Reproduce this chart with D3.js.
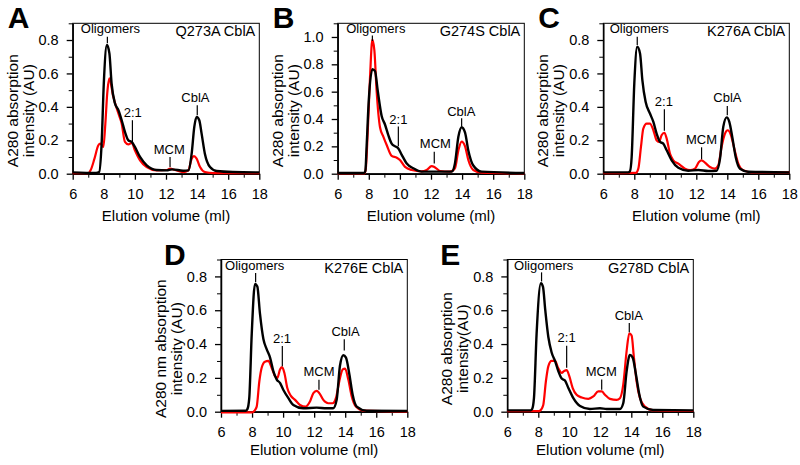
<!DOCTYPE html>
<html>
<head>
<meta charset="utf-8">
<script src="https://cdn.jsdelivr.net/npm/d3@7"></script>
<style>
	body { margin: 0; background: #fff; }
	svg { display: block; font-family: "Liberation Sans", Arial, sans-serif; }
</style>
</head>
<body>
<svg id="chart" width="800" height="465"></svg>
<script>
// ---- data ----
const xTicks = [6, 8, 10, 12, 14, 16, 18];
const xMinor = [7, 9, 11, 13, 15, 17];
const panelLetters = ["A", "B", "C", "D", "E"];
const panelTitles = ["Q273A CblA", "G274S CblA", "K276A CblA", "K276E CblA", "G278D CblA"];
const yLabels = [
	["A280 absorption", "intensity (AU)"],
	["A280 absorption", "intensity (AU)"],
	["A280 absorption", "intensity (AU)"],
	["A280 nm absorption", "intensity (AU)"],
	["A280 absorption", "intensity(AU)"],
];
const yMax = [0.9, 1.1, 0.9, 0.9, 0.9];
const xLabel = "Elution volume (ml)";

// [elution volume (ml), A280 (AU)]
const blackA = [[6,0.008],[7.5,0.005],[7.7,0.01],[7.86,0.18],[8.0,0.54],[8.2,0.77],[8.36,0.72],[8.5,0.54],[8.72,0.42],[8.94,0.38],[9.15,0.32],[9.36,0.25],[9.58,0.2],[9.8,0.19],[10.0,0.16],[10.33,0.1],[10.76,0.05],[11.4,0.022],[12.04,0.02],[12.4,0.026],[13.1,0.018],[13.44,0.02],[13.65,0.12],[13.82,0.28],[13.97,0.34],[14.14,0.32],[14.29,0.24],[14.5,0.12],[14.83,0.04],[15.26,0.016],[16.3,0.01],[18,0.008]];
const redA = [[6,0.003],[7.0,0.003],[7.15,0.02],[7.4,0.09],[7.65,0.17],[7.78,0.18],[7.97,0.16],[8.1,0.3],[8.22,0.48],[8.36,0.57],[8.61,0.46],[8.94,0.36],[9.15,0.3],[9.36,0.19],[9.58,0.175],[9.8,0.185],[10.0,0.14],[10.33,0.08],[10.76,0.04],[11.4,0.02],[12.04,0.022],[12.26,0.03],[12.58,0.022],[13.1,0.01],[13.44,0.02],[13.65,0.09],[13.8,0.105],[13.97,0.09],[14.19,0.04],[14.5,0.01],[15.04,0.004],[18,0.003]];
const blackB = [[6,0.005],[7.7,0.005],[7.78,0.02],[7.86,0.2],[8.0,0.54],[8.23,0.765],[8.4,0.75],[8.57,0.61],[8.83,0.42],[9.04,0.36],[9.26,0.28],[9.47,0.22],[9.69,0.2],[9.9,0.185],[10.11,0.14],[10.44,0.075],[10.86,0.04],[11.4,0.015],[12.47,0.015],[13.33,0.015],[13.54,0.075],[13.76,0.27],[13.97,0.34],[14.19,0.3],[14.4,0.17],[14.72,0.06],[15.26,0.015],[18,0.005]];
const redB = [[6,0.003],[7.72,0.003],[7.8,0.03],[7.93,0.3],[8.08,0.71],[8.23,0.98],[8.36,0.9],[8.5,0.61],[8.72,0.34],[8.94,0.27],[9.15,0.21],[9.47,0.13],[9.8,0.117],[10.0,0.1],[10.33,0.05],[10.76,0.027],[11.4,0.017],[11.72,0.027],[12.04,0.056],[12.26,0.046],[12.58,0.02],[13.2,0.015],[13.54,0.04],[13.76,0.17],[13.97,0.235],[14.19,0.2],[14.4,0.1],[14.72,0.027],[15.26,0.007],[18,0.002]];
const blackC = [[6,0.008],[7.6,0.008],[7.72,0.015],[7.83,0.1],[8.0,0.54],[8.19,0.76],[8.37,0.72],[8.52,0.56],[8.73,0.43],[9.01,0.36],[9.23,0.31],[9.44,0.24],[9.66,0.19],[9.87,0.18],[10.09,0.14],[10.41,0.08],[10.84,0.036],[11.48,0.018],[12.13,0.022],[12.77,0.016],[13.31,0.018],[13.53,0.09],[13.74,0.28],[13.96,0.337],[14.13,0.31],[14.32,0.22],[14.54,0.1],[14.82,0.03],[15.35,0.012],[18,0.008]];
const redC = [[6,0.003],[8.1,0.005],[8.26,0.03],[8.43,0.16],[8.58,0.27],[8.8,0.3],[9.01,0.3],[9.23,0.26],[9.44,0.2],[9.59,0.19],[9.76,0.23],[9.94,0.245],[10.09,0.21],[10.3,0.12],[10.52,0.08],[10.84,0.06],[11.27,0.03],[11.6,0.022],[11.91,0.03],[12.17,0.07],[12.34,0.08],[12.56,0.066],[12.88,0.04],[13.2,0.03],[13.42,0.05],[13.63,0.16],[13.85,0.24],[14.02,0.26],[14.24,0.23],[14.45,0.15],[14.71,0.06],[15.03,0.02],[15.57,0.008],[18,0.008]];
const blackD = [[6,0.005],[7.6,0.006],[7.7,0.015],[7.82,0.08],[7.98,0.46],[8.19,0.756],[8.34,0.74],[8.51,0.58],[8.73,0.43],[8.94,0.37],[9.16,0.32],[9.37,0.24],[9.59,0.19],[9.8,0.17],[10.01,0.13],[10.34,0.08],[10.66,0.04],[11.3,0.02],[12.16,0.024],[12.8,0.02],[13.23,0.02],[13.45,0.07],[13.66,0.27],[13.88,0.334],[14.05,0.32],[14.27,0.22],[14.48,0.1],[14.74,0.03],[15.38,0.006],[18,0.004]];
const redD = [[6,-0.004],[8.0,-0.004],[8.15,0.005],[8.3,0.03],[8.47,0.18],[8.62,0.26],[8.83,0.295],[9.05,0.3],[9.26,0.26],[9.48,0.21],[9.63,0.2],[9.8,0.25],[9.93,0.263],[10.08,0.23],[10.27,0.14],[10.49,0.095],[10.77,0.07],[11.09,0.04],[11.45,0.03],[11.73,0.06],[11.95,0.11],[12.16,0.123],[12.33,0.11],[12.59,0.07],[12.91,0.05],[13.19,0.05],[13.4,0.08],[13.62,0.18],[13.84,0.25],[13.99,0.255],[14.2,0.19],[14.42,0.09],[14.69,0.03],[15.17,0.006],[18,0.0]];
const blackE = [[6,0.008],[7.5,0.008],[7.6,0.015],[7.72,0.08],[7.89,0.46],[8.17,0.76],[8.3,0.74],[8.45,0.6],[8.65,0.44],[8.86,0.35],[9.08,0.3],[9.29,0.24],[9.51,0.196],[9.72,0.184],[9.94,0.14],[10.26,0.08],[10.69,0.034],[11.33,0.016],[11.98,0.02],[12.41,0.016],[13.27,0.016],[13.48,0.05],[13.7,0.24],[13.91,0.336],[14.09,0.32],[14.3,0.22],[14.52,0.1],[14.77,0.03],[15.42,0.01],[18,0.008]];
const redE = [[6,0.003],[8.0,0.003],[8.11,0.006],[8.32,0.04],[8.49,0.18],[8.65,0.27],[8.86,0.3],[9.08,0.3],[9.29,0.256],[9.51,0.23],[9.66,0.24],[9.83,0.246],[10.0,0.21],[10.22,0.14],[10.47,0.1],[10.8,0.084],[11.23,0.076],[11.55,0.09],[11.87,0.12],[12.09,0.12],[12.3,0.1],[12.62,0.076],[13.05,0.07],[13.27,0.08],[13.48,0.16],[13.7,0.36],[13.87,0.464],[14.02,0.45],[14.17,0.32],[14.34,0.18],[14.56,0.08],[14.88,0.03],[15.42,0.008],[18,0.004]];

// peak labels: text, label x, line x, text baseline y, line top y, line bottom y (data units)
const annotA = [["Oligomers",8.43,8.23,0.84,0.82,0.78],["2:1",9.86,9.84,0.34,0.32,0.19],["MCM",12.21,12.26,0.118,0.1,0.04],["CblA",13.89,14.01,0.43,0.41,0.35]];
const annotB = [["Oligomers",8.45,8.23,1.03,1.01,0.97],["2:1",9.9,9.9,0.365,0.345,0.2],["MCM",12.28,12.21,0.186,0.16,0.075],["CblA",13.95,13.97,0.423,0.405,0.345]];
const annotC = [["Oligomers",8.32,8.19,0.84,0.82,0.77],["2:1",9.91,9.94,0.405,0.385,0.257],["MCM",12.34,12.34,0.178,0.158,0.086],["CblA",14.01,14.0,0.43,0.405,0.35]];
const annotD = [["Oligomers",8.17,8.23,0.836,0.82,0.766],["2:1",9.93,9.95,0.408,0.388,0.269],["MCM",12.31,12.31,0.209,0.189,0.13],["CblA",14.02,13.94,0.448,0.428,0.362]];
const annotE = [["Oligomers",8.35,8.21,0.84,0.824,0.77],["2:1",9.83,9.83,0.41,0.39,0.26],["MCM",12.06,12.09,0.21,0.19,0.13],["CblA",13.84,13.87,0.54,0.524,0.47]];

const blacks = [blackA, blackB, blackC, blackD, blackE];
const reds = [redA, redB, redC, redD, redE];
const annots = [annotA, annotB, annotC, annotD, annotE];

// ---- layout (pixels) ----
const boxes = [ // left, top, width, height
	[72.7, 23.3, 186.6, 150.4],
	[337.7, 23.3, 186.6, 150.4],
	[603.3, 23.3, 186, 150.4],
	[221, 259.5, 186.3, 152.2],
	[507.3, 259.5, 186, 152.2],
];

const svg = d3.select("#chart");

boxes.forEach((b, i) => {
	const [left, top, w, h] = b;
	const g = svg.append("g").attr("transform", `translate(${left},${top})`);
	const lowerRow = i > 2;

	const x = d3.scaleLinear().domain([6, 18]).range([0, w]);
	const y = d3.scaleLinear().domain([0, yMax[i]]).range([h, 0]);

	const yMajor = d3.range(0, yMax[i] - 0.05, 0.2).map((d) => +d.toFixed(1));
	const yMinorT = d3.range(0.1, yMax[i] + 0.001, 0.2).map((d) => +d.toFixed(1));

	// frame top/right
	g.append("rect")
		.attr("width", w)
		.attr("height", h)
		.attr("fill", "none")
		.attr("stroke", "#000")
		.attr("stroke-width", 1);

	// minor ticks
	g.append("g")
		.attr("transform", `translate(0,${h})`)
		.call(d3.axisBottom(x).tickValues(xMinor).tickSize(4).tickSizeOuter(0).tickFormat(""))
		.call((s) => s.select(".domain").remove());
	g.append("g")
		.call(d3.axisLeft(y).tickValues(yMinorT).tickSize(4).tickSizeOuter(0).tickFormat(""))
		.call((s) => s.select(".domain").remove());

	// major axes
	const xa = g.append("g")
		.attr("transform", `translate(0,${h})`)
		.call(d3.axisBottom(x).tickValues(xTicks).tickSize(6).tickSizeOuter(0).tickPadding(9).tickFormat(d3.format("d")));
	const ya = g.append("g")
		.call(d3.axisLeft(y).tickValues(yMajor).tickSize(6).tickSizeOuter(0).tickPadding(8).tickFormat(d3.format(".1f")));
	[xa, ya].forEach((a) => {
		a.selectAll("text").attr("font-size", 14.5).attr("fill", "#000").attr("font-family", null);
		a.selectAll("line").attr("stroke-width", 1.3);
		a.select(".domain").attr("stroke-width", 1.5);
	});
	g.selectAll(".tick line").attr("stroke", "#000");

	// curves
	const line = d3.line()
		.x((d) => x(d[0]))
		.y((d) => y(d[1]))
		.curve(d3.curveMonotoneX);
	g.append("path")
		.datum(reds[i])
		.attr("d", line)
		.attr("fill", "none")
		.attr("stroke", "#ff0000")
		.attr("stroke-width", 2.2)
		.attr("stroke-linejoin", "round");
	g.append("path")
		.datum(blacks[i])
		.attr("d", line)
		.attr("fill", "none")
		.attr("stroke", "#000")
		.attr("stroke-width", 2.4)
		.attr("stroke-linejoin", "round");

	// peak labels
	annots[i].forEach((a) => {
		g.append("text")
			.attr("x", x(a[1]))
			.attr("y", y(a[3]))
			.attr("text-anchor", "middle")
			.attr("font-size", 13)
			.text(a[0]);
		g.append("line")
			.attr("x1", x(a[2]))
			.attr("x2", x(a[2]))
			.attr("y1", y(a[4]))
			.attr("y2", y(a[5]))
			.attr("stroke", "#000")
			.attr("stroke-width", 1.2);
	});

	// mutant name
	g.append("text")
		.attr("x", w - 4)
		.attr("y", 13)
		.attr("text-anchor", "end")
		.attr("font-size", 14.5)
		.text(panelTitles[i]);

	// axis titles
	g.append("text")
		.attr("x", w / 2)
		.attr("y", h + (lowerRow ? 43 : 47))
		.attr("text-anchor", "middle")
		.attr("font-size", 15)
		.text(xLabel);
	const yl = g.append("text")
		.attr("transform", `translate(0,${h - 63}) rotate(-90)`)
		.attr("text-anchor", "middle")
		.attr("font-size", 15.5);
	yl.append("tspan").attr("x", 0).attr("y", -55).text(yLabels[i][0]);
	yl.append("tspan").attr("x", 0).attr("y", -39).text(yLabels[i][1]);

	// panel letter
	g.append("text")
		.attr("x", i === 3 ? -57 : i === 4 ? -67 : -65)
		.attr("y", 5)
		.attr("font-size", 30)
		.attr("font-weight", "bold")
		.text(panelLetters[i]);
});
</script>
</body>
</html>
